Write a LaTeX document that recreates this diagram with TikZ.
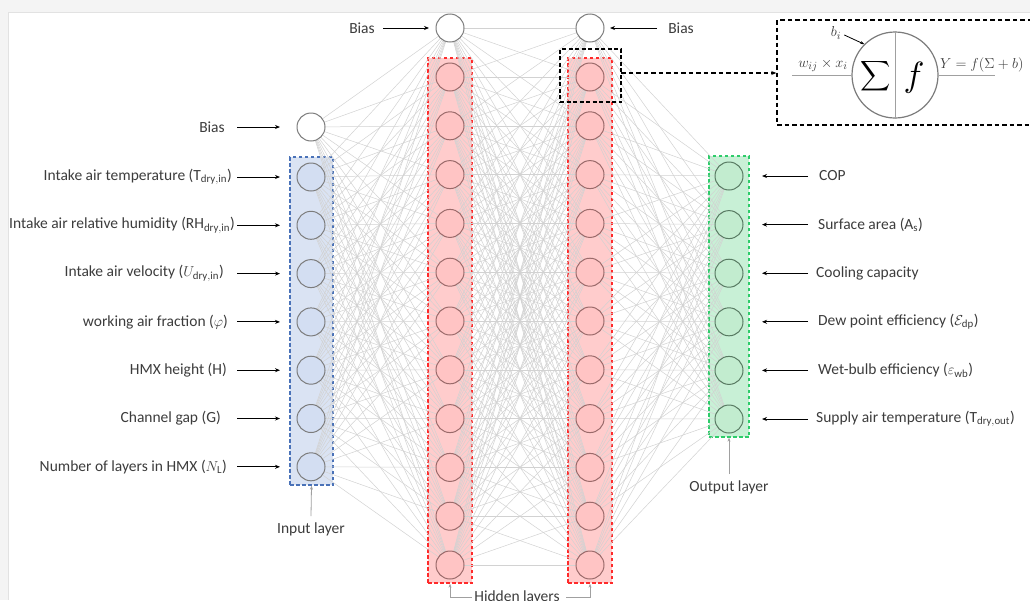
\documentclass[tikz,border=0pt]{standalone}
\usepackage{fontspec}
\setmainfont{Carlito}
\usetikzlibrary{arrows.meta}
\definecolor{labeltext}{HTML}{3C3C3C}
\definecolor{linkgray}{HTML}{D2D2D2}
\definecolor{framegray}{HTML}{F4F4F4}
\definecolor{frameline}{HTML}{E2E2E2}
\definecolor{bluefill}{HTML}{DAE3F3}
\definecolor{blueedge}{HTML}{4A72B8}
\definecolor{bluenode}{HTML}{D3DEF2}
\definecolor{redfill}{HTML}{FFCCCC}
\definecolor{rededge}{HTML}{FF2A2A}
\definecolor{rednode}{HTML}{FFC4C4}
\definecolor{rednodeedge}{HTML}{9A6A6A}
\definecolor{greenfill}{HTML}{C8F0D6}
\definecolor{greenedge}{HTML}{2ECC6A}
\definecolor{greennode}{HTML}{C2ECCF}
\definecolor{greennodeedge}{HTML}{587A62}
\definecolor{nodeedge}{HTML}{7C7C7C}
\definecolor{pointer}{HTML}{A0A0A0}
\pgfdeclarelayer{page}
\pgfdeclarelayer{fills}
\pgfdeclarelayer{links}
\pgfsetlayers{page,fills,links,main}
\tikzset{
  neuron/.style={circle, minimum size=28pt, inner sep=0pt, line width=1pt},
  biasnode/.style={neuron, draw=nodeedge, fill=white},
  innode/.style={neuron, draw=nodeedge, fill=bluenode},
  hidnode/.style={neuron, draw=rednodeedge, fill=rednode},
  outnode/.style={neuron, draw=greennodeedge, fill=greennode},
  layerbox/.style={rectangle, inner sep=0pt, line width=1.3pt, dash pattern=on 3.5pt off 2.5pt},
  inbox/.style={layerbox, draw=blueedge, fill=bluefill},
  hidbox/.style={layerbox, draw=rededge, fill=redfill},
  outbox/.style={layerbox, draw=greenedge, fill=greenfill},
  link/.style={draw=linkgray, line width=0.5pt},
  label/.style={text=labeltext, font=\fontsize{15.5}{17}\selectfont, inner sep=0pt},
  feed/.style={-{Stealth[length=5pt,width=4pt]}, line width=1pt, black},
  pointerarrow/.style={-{Stealth[length=4pt,width=3pt]}, line width=0.8pt, pointer},
  insetline/.style={draw=pointer, line width=1pt},
  mathlabel/.style={text=labeltext, font=\fontsize{15}{17}\selectfont, inner sep=0pt}
}
\begin{document}
\begin{tikzpicture}[x=1pt,y=-1pt]
\useasboundingbox (0,0) rectangle (1030,600);
% page frame
\begin{pgfonlayer}{page}
  \fill[framegray] (0,0) rectangle (1030,600);
  \fill[white] (8,12) rectangle (1030,600);
  \draw[frameline, line width=0.8pt] (8,600) -- (8,12) -- (1030,12);
\end{pgfonlayer}

% layer boxes
\begin{pgfonlayer}{fills}
  \node[inbox, minimum width=43pt, minimum height=328pt] (inbox) at (311.5,321) {};
  \node[hidbox, minimum width=44pt, minimum height=525pt] (hboxa) at (450,320.5) {};
  \node[hidbox, minimum width=44pt, minimum height=525pt] (hboxb) at (590,320.5) {};
  \node[outbox, minimum width=40pt, minimum height=281pt] (outbox) at (729,296.5) {};
\end{pgfonlayer}

% neurons (index 0 is the bias unit)
\node[biasnode] (in0) at (311,127) {};
\foreach \i in {1,...,7} \node[innode] (in\i) at (311,{177+48.3*(\i-1)}) {};
\node[biasnode] (ha0) at (450,28) {};
\node[biasnode] (hb0) at (590,28) {};
\foreach \i in {1,...,11} {
  \node[hidnode] (ha\i) at (450,{77+48.8*(\i-1)}) {};
  \node[hidnode] (hb\i) at (590,{77+48.8*(\i-1)}) {};
}
\foreach \i in {1,...,6} \node[outnode] (out\i) at (729,{176+48.6*(\i-1)}) {};

% fully connected weights
\begin{pgfonlayer}{links}
  \foreach \s in {0,...,7} \foreach \t in {0,...,11}
    \draw[link] (in\s.center) -- (ha\t.center);
  \foreach \s in {0,...,11} \foreach \t in {0,...,11}
    \draw[link] (ha\s.center) -- (hb\t.center);
  \foreach \s in {0,...,11} \foreach \t in {1,...,6}
    \draw[link] (hb\s.center) -- (out\t.center);
\end{pgfonlayer}

% bias labels
\node[label] (biasin) at (212,127) {Bias};
\coordinate (bia) at (237,127); \coordinate (bib) at (280,127);
\draw[feed] (bia) -- (bib);
\node[label] (biasa) at (362,28) {Bias};
\coordinate (baa) at (383,28); \coordinate (bab) at (429,28);
\draw[feed] (baa) -- (bab);
\node[label] (biasb) at (681,28) {Bias};
\coordinate (bba) at (657,28); \coordinate (bbb) at (610,28);
\draw[feed] (bba) -- (bbb);

% input labels
\node[label, anchor=east] (lin1) at (232,177) {Intake air temperature ($\mathrm{T}_{\mathrm{dry,in}}$)};
\node[label, anchor=west] (lin2) at (9,225.3) {Intake air relative humidity ($\mathrm{RH}_{\mathrm{dry,in}}$)};
\node[label, anchor=east] (lin3) at (224,273.6) {Intake air velocity ($U_{\mathrm{dry,in}}$)};
\node[label, anchor=east] (lin4) at (228,321.9) {working air fraction ($\varphi$)};
\node[label, anchor=east] (lin5) at (227,370.2) {HMX height (H)};
\node[label, anchor=east] (lin6) at (221,418.5) {Channel gap (G)};
\node[label, anchor=east] (lin7) at (227,466.8) {Number of layers in HMX ($N_{\mathrm{L}}$)};
\foreach \i in {1,...,7} {
  \coordinate (ia\i) at (237,{177+48.3*(\i-1)});
  \coordinate (ib\i) at (280,{177+48.3*(\i-1)});
  \draw[feed] (ia\i) -- (ib\i);
}

% output labels
\node[label, anchor=west] (lout1) at (819,176) {COP};
\node[label, anchor=west] (lout2) at (818,224.6) {Surface area (A$_{\mathrm{s}}$)};
\node[label, anchor=west] (lout3) at (816,273.2) {Cooling capacity};
\node[label, anchor=west] (lout4) at (818,321.8) {Dew point efficiency ($\mathcal{E}_{\mathrm{dp}}$)};
\node[label, anchor=west] (lout5) at (818,370.4) {Wet-bulb efficiency ($\varepsilon_{\mathrm{wb}}$)};
\node[label, anchor=west] (lout6) at (816,419) {Supply air temperature ($\mathrm{T}_{\mathrm{dry,out}}$)};
\foreach \i in {1,...,6} {
  \coordinate (oa\i) at (808,{176+48.6*(\i-1)});
  \coordinate (ob\i) at (762,{176+48.6*(\i-1)});
  \draw[feed] (oa\i) -- (ob\i);
}

% layer names
\node[label] (inname) at (311,529) {Input layer};
\coordinate (inp) at (311,516);
\draw[pointerarrow] (inp) -- (inbox.south);
\node[label] (outname) at (729,487) {Output layer};
\coordinate (outp) at (729,474);
\draw[pointerarrow] (outp) -- (outbox.south);
\node[label, anchor=base] (hidname) at (517,601) {Hidden layers};
\coordinate (hla) at (472,597); \coordinate (hlb) at (566,597);
\draw[pointerarrow] (hla) -| (hboxa.south);
\draw[pointerarrow] (hlb) -| (hboxb.south);

% zoomed neuron
\node[rectangle, draw=black, line width=1.4pt, dash pattern=on 4pt off 2.5pt,
      minimum width=61pt, minimum height=53pt, inner sep=0pt] (focus) at (590.5,75.5) {};
\node[rectangle, draw=black, line width=1.4pt, dash pattern=on 4.5pt off 3pt,
      minimum width=270pt, minimum height=105pt, inner sep=0pt, fill=white] (inset) at (912,72.5) {};
\coordinate (focusout) at (621,73);
\draw[black, line width=1.3pt, dash pattern=on 4.5pt off 3pt, -{Stealth[length=5pt,width=4pt]}] (focusout) -- (inset.west |- focusout);

\node[circle, draw=nodeedge, line width=1.2pt, minimum size=86pt, inner sep=0pt] (cell) at (895,75) {};
\draw[insetline] (cell.north) -- (cell.south);
\node[inner sep=0pt] (sumsign) at (876,76) {\scalebox{2.1}{$\displaystyle\sum$}};
\node[inner sep=0pt] (actf) at (914,78) {\scalebox{3.5}{$f$}};
\coordinate (wstart) at (792,75);
\draw[insetline] (wstart) -- (cell.west);
\node[mathlabel] (wlabel) at (823,65) {$w_{ij}\times x_i$};
\coordinate (yend) at (995,75);
\draw[insetline] (cell.east) -- (yend);
\node[mathlabel, anchor=west] (ylabel) at (940,65) {$Y=f(\Sigma+b)$};
\node[mathlabel] (blabel) at (836,33) {$b_i$};
\draw[-{Stealth[length=4pt,width=3pt]}, line width=0.8pt, black] (blabel.east) ++(3,2) -- (cell.135);
\end{tikzpicture}
\end{document}
